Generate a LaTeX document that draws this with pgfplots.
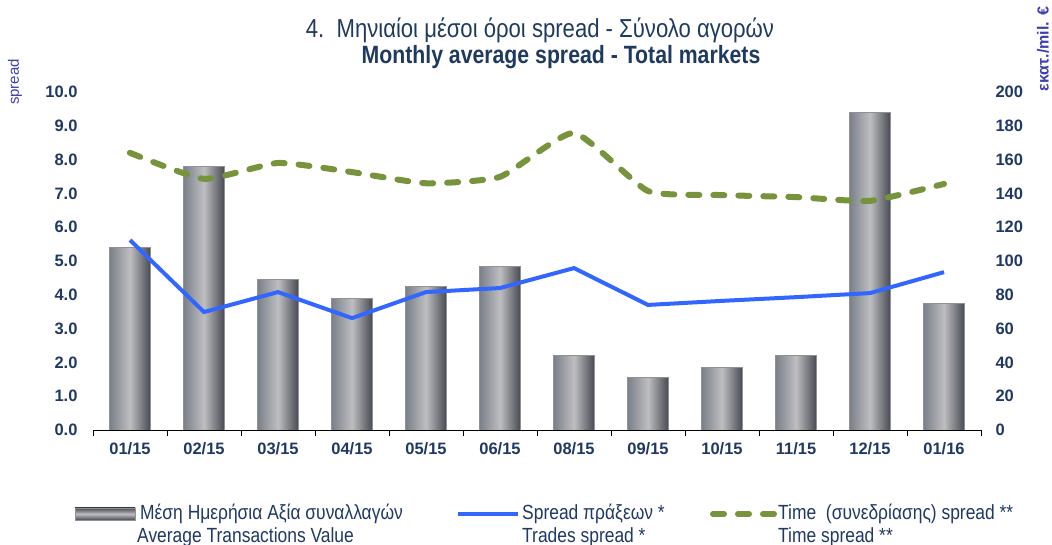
\documentclass[border=0pt]{standalone}
\usepackage{pgfplots}
\pgfplotsset{compat=1.18}
\usepackage{pgfplotstable}
\usepackage{fontspec}
\setmainfont{Liberation Sans}
\newfontfamily\condfont{Liberation Sans}[FakeStretch=0.85]
\definecolor{navy}{HTML}{1F3864}
\definecolor{titlecol}{HTML}{1F3A5F}
\definecolor{axlab}{HTML}{3F3FAF}
\definecolor{bluel}{HTML}{3366FF}
\definecolor{greenl}{HTML}{77933C}
\definecolor{barL}{HTML}{7A8089}
\definecolor{barM}{HTML}{BEBEC1}
\definecolor{barR}{HTML}{464A51}

\pgfplotstableread{
x trades time
0 5.62 8.20
1 3.49 7.43
2 4.08 7.90
3 3.31 7.63
4 4.08 7.30
5 4.20 7.49
6 4.79 8.79
7 3.70 7.07
8 3.82 6.95
9 3.93 6.89
10 4.05 6.78
11 4.67 7.28
}\linetable

\pgfplotsset{
  barst/.style={ybar, bar shift=0pt, bar width=41pt, draw=barR!60, line width=0.6pt,
    left color=barL, right color=barR, middle color=barM},
}

\begin{document}
\begin{tikzpicture}
\useasboundingbox (-93pt,-115pt) rectangle (959pt,430pt);
\begin{axis}[
  scale only axis, width=888pt, height=338pt,
  xmin=-0.5, xmax=11.5, ymin=0, ymax=200,
  axis x line*=bottom, axis y line*=right,
  y axis line style={draw=none},
  x axis line style={black, line width=0.9pt},
  xtick={0,...,11},
  xticklabels={01/15,02/15,03/15,04/15,05/15,06/15,08/15,09/15,10/15,11/15,12/15,01/16},
  minor xtick={-0.5,0.5,...,11.5},
  major tick length=0pt,
  minor tick length=6pt,
  xtick align=outside,
  minor x tick style={black, line width=0.6pt},
  ytick={0,20,...,200},
  ytick style={draw=none},
  tick label style={font=\fontsize{16.5}{18}\selectfont\bfseries, text=navy},
  xticklabel style={yshift=-9pt},
  yticklabel style={xshift=11pt},
  /pgf/number format/assume math mode=true,
]
\addplot[barst] coordinates {(0,108)};
\addplot[barst] coordinates {(1,156)};
\addplot[barst] coordinates {(2,89)};
\addplot[barst] coordinates {(3,78)};
\addplot[barst] coordinates {(4,85)};
\addplot[barst] coordinates {(5,97)};
\addplot[barst] coordinates {(6,44)};
\addplot[barst] coordinates {(7,31)};
\addplot[barst] coordinates {(8,37)};
\addplot[barst] coordinates {(9,44)};
\addplot[barst] coordinates {(10,188)};
\addplot[barst] coordinates {(11,75)};
\end{axis}
\begin{axis}[
  scale only axis, width=888pt, height=338pt,
  xmin=-0.5, xmax=11.5, ymin=0, ymax=10,
  axis x line=none, axis y line*=left,
  y axis line style={draw=none},
  ytick={0,1,...,10}, ytick style={draw=none},
  major tick length=0pt,
  tick label style={font=\fontsize{16.5}{18}\selectfont\bfseries, text=navy},
  yticklabel style={xshift=-12pt, /pgf/number format/fixed, /pgf/number format/fixed zerofill, /pgf/number format/precision=1},
  /pgf/number format/assume math mode=true,
]
\addplot[bluel, line width=4pt, mark=none] table[x=x,y=trades]{\linetable};
\addplot[greenl, line width=6pt, mark=none, smooth, tension=0.3, line cap=round, dash pattern=on 11pt off 14pt] table[x=x,y=time]{\linetable};
\end{axis}
% titles
\node[text=titlecol, font=\condfont\fontsize{26}{28}\selectfont] at (447pt,400pt) {4.\ \ Μηνιαίοι μέσοι όροι spread - Σύνολο αγορών};
\node[text=titlecol, font=\condfont\fontsize{25}{28}\selectfont\bfseries] at (468pt,373pt) {Monthly average spread - Total markets};
% axis labels
\node[rotate=90, text=axlab, font=\fontsize{15}{17}\selectfont, inner sep=0] at (-78pt,348pt) {spread};
\node[rotate=90, text=axlab, font=\fontsize{16}{17}\selectfont\bfseries, inner sep=0] at (950pt,381pt) {εκατ./mil. €};
% legend
\shade[top color=barR, bottom color=barR, middle color=barM, draw=barR!60] (-18pt,-90pt) rectangle (42pt,-78pt);
\node[anchor=west, inner sep=0, text=navy, font=\condfont\fontsize{20.5}{22}\selectfont] at (47pt,-84pt) {Μέση Ημερήσια Αξία συναλλαγών};
\node[anchor=west, inner sep=0, text=navy, font=\condfont\fontsize{20.5}{22}\selectfont] at (44pt,-107pt) {Average Transactions Value};
\draw[bluel, line width=4pt] (365pt,-84pt) -- (425pt,-84pt);
\node[anchor=west, inner sep=0, text=navy, font=\condfont\fontsize{20.5}{22}\selectfont] at (429pt,-84pt) {Spread πράξεων *};
\node[anchor=west, inner sep=0, text=navy, font=\condfont\fontsize{20.5}{22}\selectfont] at (429pt,-107pt) {Trades spread *};
\draw[greenl, line width=6pt, line cap=round, dash pattern=on 11pt off 14pt] (620pt,-84pt) -- (682pt,-84pt);
\node[anchor=west, inner sep=0, text=navy, font=\condfont\fontsize{20.5}{22}\selectfont] at (685pt,-84pt) {Time\ \ (συνεδρίασης) spread **};
\node[anchor=west, inner sep=0, text=navy, font=\condfont\fontsize{20.5}{22}\selectfont] at (685pt,-107pt) {Time spread **};
\end{tikzpicture}
\end{document}
